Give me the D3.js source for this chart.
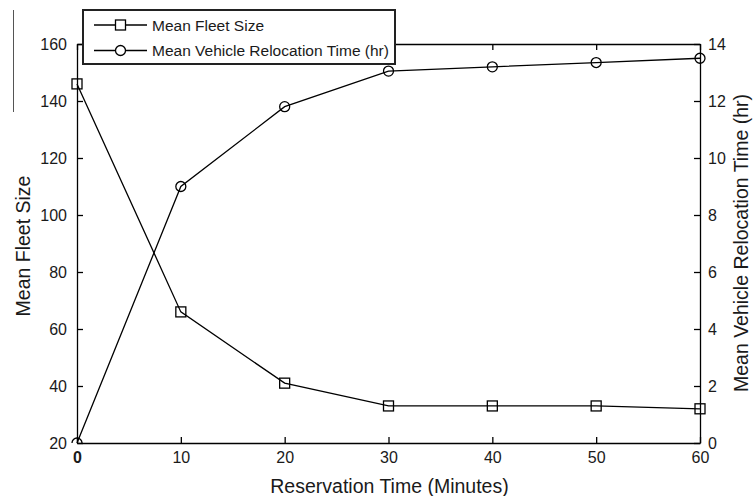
<!DOCTYPE html>
<html>
<head>
<meta charset="utf-8">
<script src="https://cdn.jsdelivr.net/npm/d3@7"></script>
<style>
  body { margin: 0; background: #fff; }
  svg { display: block; }
  text { font-family: "Liberation Sans", Arial, sans-serif; fill: #1a1a1a; }
  .axis path, .axis line { stroke: #000; stroke-width: 1.3; }
  .axis text { font-size: 16px; }
</style>
</head>
<body>
<svg id="chart" width="756" height="496"></svg>
<script>
// reservation time (minutes) on x
var reservationTimes = [0, 10, 20, 30, 40, 50, 60];
var fleetSize = [146, 66, 41, 33, 33, 33, 32];
var relocationTime = [0, 9.0, 11.8, 13.05, 13.2, 13.35, 13.5];

var xTicks = [0, 10, 20, 30, 40, 50, 60];
var leftTicks = [20, 40, 60, 80, 100, 120, 140, 160];
var rightTicks = [0, 2, 4, 6, 8, 10, 12, 14];

var plotLeft = 77, plotRight = 700, plotTop = 44, plotBottom = 443,
    tick = 6, sq = 10;

var svg = d3.select('#chart');

var x = d3.scaleLinear().domain([0, 60]).range([plotLeft, plotRight]);
var yLeft = d3.scaleLinear().domain([20, 160]).range([plotBottom, plotTop]);
var yRight = d3.scaleLinear().domain([0, 14]).range([plotBottom, plotTop]);

// stray border line on the far left of the scan
svg.append('line')
    .attr('x1', 13.5).attr('x2', 13.5)
    .attr('y1', 10).attr('y2', 112)
    .attr('stroke', '#555').attr('stroke-width', 1);

// axes, ticks pointing inward
svg.append('g').attr('class', 'axis')
    .attr('transform', 'translate(0,' + plotTop + ')')
    .call(d3.axisTop(x).tickValues(xTicks).tickSizeInner(-tick).tickSizeOuter(0).tickFormat(''));

svg.append('g').attr('class', 'axis x')
    .attr('transform', 'translate(0,' + plotBottom + ')')
    .call(d3.axisBottom(x).tickValues(xTicks).tickSizeInner(-tick).tickSizeOuter(0).tickPadding(9));

svg.append('g').attr('class', 'axis')
    .attr('transform', 'translate(' + plotLeft + ',0)')
    .call(d3.axisLeft(yLeft).tickValues(leftTicks).tickSizeInner(-tick).tickSizeOuter(0).tickPadding(10));

svg.append('g').attr('class', 'axis')
    .attr('transform', 'translate(' + plotRight + ',0)')
    .call(d3.axisRight(yRight).tickValues(rightTicks).tickSizeInner(-tick).tickSizeOuter(0).tickPadding(8));

svg.selectAll('.axis path.domain').attr('fill', 'none');
svg.select('.axis.x').selectAll('.tick text')
    .filter(function(d) { return d === 0; })
    .style('font-weight', 'bold');

// clip for markers sitting on the bottom edge
svg.append('clipPath').attr('id', 'plot-clip')
  .append('rect')
    .attr('x', 0).attr('y', 0)
    .attr('width', 756).attr('height', plotBottom);

var fleetPts = reservationTimes.map(function(t, i) { return [x(t), yLeft(fleetSize[i])]; });
var relocPts = reservationTimes.map(function(t, i) { return [x(t), yRight(relocationTime[i])]; });

var line = d3.line();

svg.append('path')
    .attr('d', line(fleetPts))
    .attr('fill', 'none').attr('stroke', '#000').attr('stroke-width', 1.3);

svg.append('path')
    .attr('d', line(relocPts))
    .attr('fill', 'none').attr('stroke', '#000').attr('stroke-width', 1.3);

svg.selectAll('rect.fleet')
    .data(fleetPts)
  .enter().append('rect')
    .attr('class', 'fleet')
    .attr('x', function(d) { return d[0] - sq / 2; })
    .attr('y', function(d) { return d[1] - sq / 2; })
    .attr('width', sq).attr('height', sq)
    .attr('fill', 'none').attr('stroke', '#000').attr('stroke-width', 1.3);

svg.append('g').attr('clip-path', 'url(#plot-clip)')
  .selectAll('circle')
    .data(relocPts)
  .enter().append('circle')
    .attr('cx', function(d) { return d[0]; })
    .attr('cy', function(d) { return d[1]; })
    .attr('r', 5)
    .attr('fill', 'none').attr('stroke', '#000').attr('stroke-width', 1.3);

// axis titles
svg.append('text')
    .attr('x', (plotLeft + plotRight) / 2 + 1).attr('y', 493)
    .attr('text-anchor', 'middle')
    .style('font-size', '19.5px')
    .text('Reservation Time (Minutes)');

svg.append('text')
    .attr('transform', 'translate(30,246) rotate(-90)')
    .attr('text-anchor', 'middle')
    .style('font-size', '19.5px')
    .text('Mean Fleet Size');

svg.append('text')
    .attr('transform', 'translate(748,243) rotate(-90)')
    .attr('text-anchor', 'middle')
    .style('font-size', '19.5px')
    .text('Mean Vehicle Relocation Time (hr)');

// legend
var legend = svg.append('g');
legend.append('rect')
    .attr('x', 83).attr('y', 10)
    .attr('width', 312).attr('height', 54)
    .attr('fill', '#fff').attr('stroke', '#222').attr('stroke-width', 2);

var entries = ['Mean Fleet Size', 'Mean Vehicle Relocation Time (hr)'];
var rows = legend.selectAll('g.entry')
    .data(entries)
  .enter().append('g')
    .attr('class', 'entry')
    .attr('transform', function(d, i) { return 'translate(0,' + (25 + i * 25.5) + ')'; });

rows.append('line')
    .attr('x1', 94).attr('x2', 147)
    .attr('stroke', '#000').attr('stroke-width', 1.3);

rows.filter(function(d, i) { return i === 0; }).append('rect')
    .attr('x', 120.5 - sq / 2).attr('y', -sq / 2)
    .attr('width', sq).attr('height', sq)
    .attr('fill', '#fff').attr('stroke', '#000').attr('stroke-width', 1.3);

rows.filter(function(d, i) { return i === 1; }).append('circle')
    .attr('cx', 120.5).attr('r', 5)
    .attr('fill', '#fff').attr('stroke', '#000').attr('stroke-width', 1.3);

rows.append('text')
    .attr('x', 152).attr('dy', '0.36em')
    .style('font-size', '15.5px')
    .text(function(d) { return d; });
</script>
</body>
</html>
